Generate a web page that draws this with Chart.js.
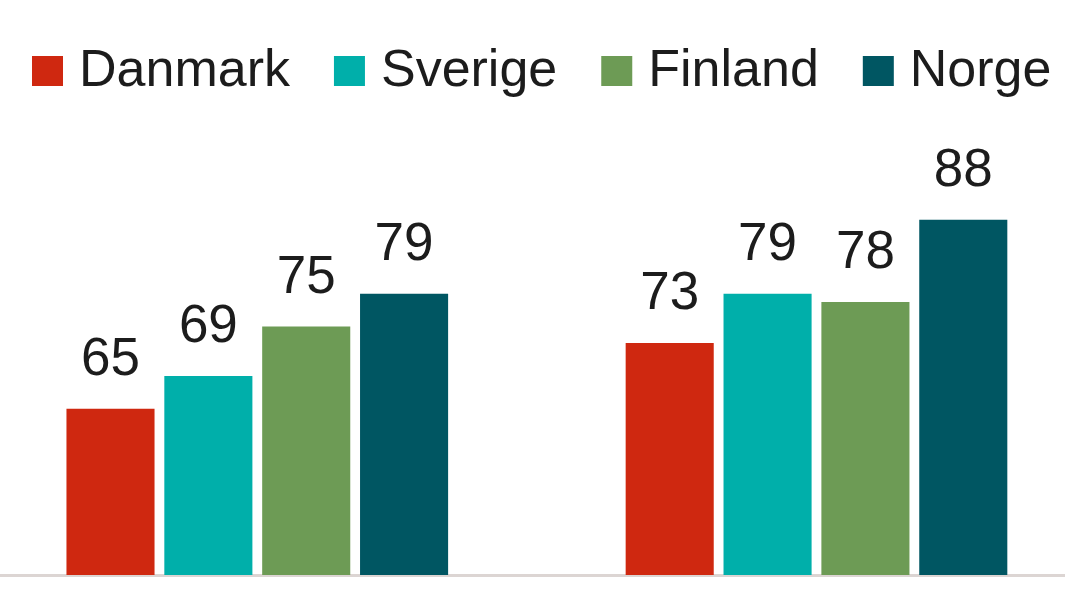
<!DOCTYPE html>
<html>
<head>
<meta charset="utf-8">
<script src="https://cdn.jsdelivr.net/npm/chart.js@4/dist/chart.umd.min.js"></script>
<style>
  html, body { margin: 0; padding: 0; background: #ffffff; }
  #wrap { width: 1065px; height: 608px; }
</style>
</head>
<body>
<div id="wrap"><canvas id="c" width="1065" height="608"></canvas></div>
<script>
const categories = ["Gruppe 1", "Gruppe 2"];
const seriesNames = ["Danmark", "Sverige", "Finland", "Norge"];
const danmark = [65, 73];
const sverige = [69, 79];
const finland = [75, 78];
const norge = [79, 88];
const seriesColors = ["#CF2810", "#00AFAA", "#6D9B55", "#005662"];

const FONT = '"Liberation Sans", Arial, Helvetica, sans-serif';
const TEXT_COLOR = '#1c1c1c';

const valueLabels = {
  id: 'valueLabels',
  afterDatasetsDraw(chart) {
    const ctx = chart.ctx;
    ctx.save();
    ctx.font = '53px ' + FONT;
    ctx.fillStyle = TEXT_COLOR;
    ctx.textAlign = 'center';
    ctx.textBaseline = 'alphabetic';
    chart.data.datasets.forEach((ds, i) => {
      const meta = chart.getDatasetMeta(i);
      meta.data.forEach((el, j) => {
        ctx.fillText(String(ds.data[j].y), el.x, el.y - 34);
      });
    });
    ctx.restore();
  }
};

const topLegend = {
  id: 'topLegend',
  afterDraw(chart) {
    const ctx = chart.ctx;
    ctx.save();
    ctx.font = '52px ' + FONT;
    ctx.textBaseline = 'middle';
    ctx.textAlign = 'left';
    let x = 32;
    const boxW = 31, boxH = 30, boxTop = 56, textGap = 16, itemGap = 44;
    chart.data.datasets.forEach((ds) => {
      ctx.fillStyle = ds.backgroundColor;
      ctx.fillRect(x, boxTop, boxW, boxH);
      ctx.fillStyle = TEXT_COLOR;
      const tx = x + boxW + textGap;
      ctx.fillText(ds.label, tx, boxTop + boxH / 2 + 1);
      x = tx + ctx.measureText(ds.label).width + itemGap;
    });
    ctx.restore();
  }
};

const seriesData = [danmark, sverige, finland, norge];

new Chart(document.getElementById('c'), {
  type: 'bar',
  data: {
    datasets: seriesNames.map((name, i) => ({
      label: name,
      data: seriesData[i].map((v, j) => ({ x: j, y: v, cat: categories[j] })),
      backgroundColor: seriesColors[i],
      borderWidth: 0,
      categoryPercentage: 0.7,
      barPercentage: 0.9
    }))
  },
  options: {
    responsive: false,
    animation: false,
    devicePixelRatio: 1,
    layout: { padding: { top: 121, bottom: 33, left: 0, right: 0 } },
    plugins: {
      legend: { display: false },
      tooltip: { enabled: false },
      title: { display: false }
    },
    scales: {
      x: {
        type: 'linear',
        offset: false,
        min: -0.4601,
        max: 1.4444,
        afterBuildTicks(scale) {
          scale.ticks = categories.map((c, j) => ({ value: j }));
        },
        display: true,
        grid: { display: false, drawTicks: false },
        ticks: { display: false },
        border: { display: true, color: '#DCD5D3', width: 3 }
      },
      y: {
        display: false,
        min: 44.8,
        max: 100
      }
    }
  },
  plugins: [valueLabels, topLegend]
});
</script>
</body>
</html>
